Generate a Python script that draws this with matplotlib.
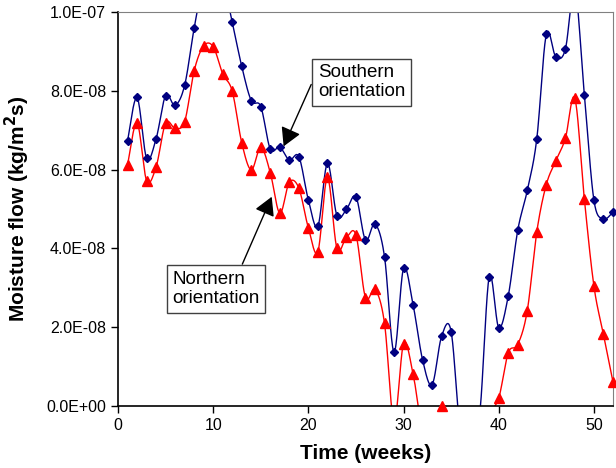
import numpy as np
import matplotlib
matplotlib.use("Agg")
import matplotlib.pyplot as plt
from matplotlib.ticker import FuncFormatter, MultipleLocator

plt.rcParams["font.family"] = ["Liberation Sans", "DejaVu Sans"]

# Weekly moisture flow, in units of 1e-8 kg/m2s (values outside 0..10 are clipped by the axes)
weeks = np.arange(1, 53)
southern = [6.73, 7.83, 6.29, 6.78, 7.88, 7.63, 8.14, 9.59, 10.8, 11.2,
            10.8, 9.74, 8.62, 7.75, 7.60, 6.52, 6.57, 6.24, 6.33, 5.23,
            4.56, 6.16, 4.83, 4.99, 5.31, 4.21, 4.62, 3.79, 1.37, 3.49,
            2.57, 1.17, 0.54, 1.77, 1.89, -0.7, -0.7, -0.2, 3.28, 1.99,
            2.79, 4.46, 5.47, 6.78, 9.43, 8.86, 9.05, 10.6, 7.90, 5.23,
            4.75, 4.92]
northern = [6.12, 7.19, 5.72, 6.07, 7.18, 7.05, 7.22, 8.51, 9.14, 9.12,
            8.43, 7.99, 6.68, 5.99, 6.57, 5.92, 4.89, 5.68, 5.53, 4.52,
            3.92, 5.80, 4.00, 4.28, 4.34, 2.75, 2.96, 2.10, -0.4, 1.58,
            0.82, -0.6, -0.5, 0.0, -0.5, -0.5, -0.5, -0.5, -0.15, 0.20,
            1.35, 1.56, 2.42, 4.42, 5.62, 6.22, 6.79, 7.81, 5.25, 3.05,
            1.82, 0.62]
scale = 1e-8
y_ticks = [0, 2e-8, 4e-8, 6e-8, 8e-8, 1e-7]


def smooth(x, y, n=20):
    # Excel style smoothed line (Bezier through the points)
    pts = np.column_stack([x, y]).astype(float)
    P = np.vstack([pts[0], pts, pts[-1]])
    t = np.linspace(0, 1, n)[:, None]
    out = []
    for i in range(len(pts) - 1):
        p0, p1, p2, p3 = P[i], P[i + 1], P[i + 2], P[i + 3]
        c1 = p1 + (p2 - p0) / 6
        c2 = p2 - (p3 - p1) / 6
        seg = (1 - t) ** 3 * p1 + 3 * (1 - t) ** 2 * t * c1 + 3 * (1 - t) * t ** 2 * c2 + t ** 3 * p2
        out.append(seg if i == 0 else seg[1:])
    return np.vstack(out)


fig = plt.figure(figsize=(6.16, 4.68), dpi=100)
ax = fig.add_axes([0.1916, 0.1325, 0.8034, 0.8419])

for vals, color, marker, ms in [(southern, "#000080", "D", 4.5),
                                (northern, "#FF0000", "^", 6.5)]:
    y = np.array(vals) * scale
    curve = smooth(weeks, y)
    ax.plot(curve[:, 0], curve[:, 1], color=color, lw=1.0)
    inside = (y >= 0) & (y <= 1e-7)
    ax.plot(weeks[inside], y[inside], ls="none", marker=marker, ms=ms,
            color=color, clip_on=False, zorder=3)

ax.set_xlim(0, 52)
ax.set_ylim(0, 1e-7)
ax.xaxis.set_major_locator(MultipleLocator(10))
ax.set_yticks(y_ticks)
ax.yaxis.set_major_formatter(FuncFormatter(lambda v, p: f"{v:.1E}"))
ax.tick_params(direction="out", length=5, width=1, labelsize=11.5, color="black")
for s in ["top", "right"]:
    ax.spines[s].set_color("#808080")
for s in ["left", "bottom"]:
    ax.spines[s].set_linewidth(1.2)

ax.set_xlabel("Time (weeks)", fontsize=15, fontweight="bold", labelpad=8)
ax.set_ylabel("Moisture flow (kg/m$^\\mathbf{2}$s)", fontsize=15, fontweight="bold", labelpad=10)

box = dict(boxstyle="square,pad=0.3", fc="white", ec="#404040", lw=1)
arrow = dict(arrowstyle="-|>,head_length=0.8,head_width=0.45", color="black", lw=1,
             shrinkA=0, shrinkB=0, mutation_scale=14)

ax.annotate("", xy=(17.4, 6.59e-8), xytext=(20.3, 8.16e-8), arrowprops=arrow)
ax.text(21.0, 8.22e-8, "Southern\norientation", fontsize=13.5, ha="left", va="center",
        linespacing=1.15, bbox=box)

ax.annotate("", xy=(16.15, 5.31e-8), xytext=(13.06, 3.60e-8), arrowprops=arrow)
ax.text(5.7, 2.97e-8, "Northern\norientation", fontsize=13.5, ha="left", va="center",
        linespacing=1.15, bbox=box)

fig.savefig("out.png", dpi=100)
